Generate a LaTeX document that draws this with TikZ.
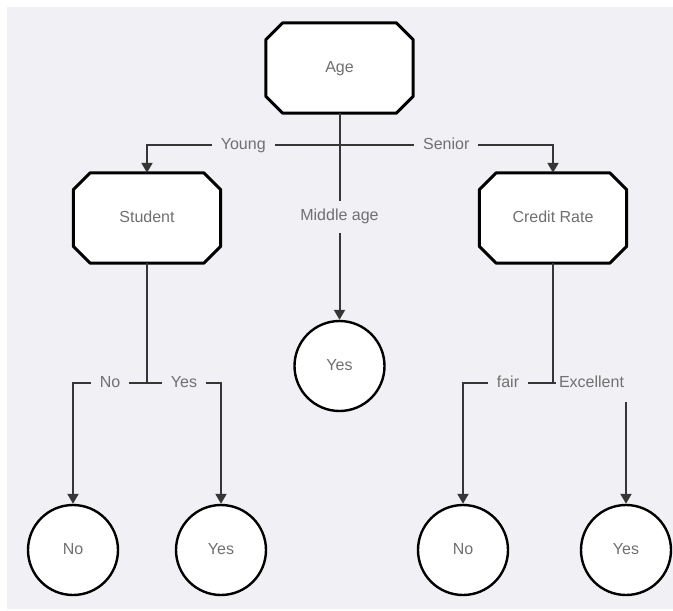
\documentclass[tikz,border=0pt]{standalone}
\usepackage{fontspec}
\setmainfont{Liberation Sans}
\usetikzlibrary{arrows.meta}
\definecolor{panel}{HTML}{F1F1F5}
\definecolor{txt}{HTML}{707070}
\definecolor{wire}{HTML}{363636}
\pgfdeclarelayer{bg}
\pgfsetlayers{bg,main}
\begin{document}
\begin{tikzpicture}[x=1pt,y=-1pt,
  every node/.style={font=\fontsize{16}{19}\selectfont, text=txt, text height=11.5pt, text depth=3.5pt},
  octbox/.style={minimum width=147pt, minimum height=90pt, inner sep=0pt},
  leaf/.style={circle, draw=black, line width=2.4pt, fill=white, minimum size=90pt, inner sep=0pt},
  conn/.style={draw=wire, line width=2pt},
  arr/.style={-{Triangle[width=11pt,length=10pt]}},
  lbl/.style={fill=panel, inner xsep=9pt, inner ysep=8.5pt},
  octline/.style={draw=black, line width=3pt, fill=white, line join=round}]
\useasboundingbox (0,0) rectangle (673,611);

% decision nodes
\node[octbox] (age) at (339.5,68) {Age};
\node[octbox] (student) at (147,218) {Student};
\node[octbox] (credit) at (553,218) {Credit Rate};

% leaves
\node[leaf] (midyes) at (339.5,366) {Yes};
\node[leaf] (no1) at (73,550) {No};
\node[leaf] (yes1) at (221,550) {Yes};
\node[leaf] (no2) at (463,550) {No};
\node[leaf] (yes2) at (626,550) {Yes};

% junctions
\coordinate (yj) at (339.5,145);
\coordinate (sj) at (147,383);
\coordinate (cj) at (553,383);

% octagon outlines and panel on background layer
\begin{pgfonlayer}{bg}
  \fill[panel] (7,7) rectangle (673,609);
  \foreach \n in {age,student,credit}{
    \path[octline] ([xshift=17pt]\n.north west) -- ([xshift=-17pt]\n.north east)
      -- ([yshift=-17pt]\n.north east) -- ([yshift=17pt]\n.south east)
      -- ([xshift=-17pt]\n.south east) -- ([xshift=17pt]\n.south west)
      -- ([yshift=17pt]\n.south west) -- ([yshift=-17pt]\n.north west) -- cycle;
  }
\end{pgfonlayer}

% connectors from Age
\draw[conn,arr] (age.south) -- (yj) -| node[pos=0.25,lbl]{Young} (student.north);
\draw[conn,arr] (age.south) -- (yj) -| node[pos=0.25,lbl]{Senior} (credit.north);
\draw[conn,arr] (age.south) -- node[lbl]{Middle age} (midyes.north);

% connectors from Student
\draw[conn] (student.south) -- (sj);
\draw[conn,arr] (sj) -| node[pos=0.25,lbl]{No} (no1.north);
\draw[conn,arr] (sj) -| node[pos=0.25,lbl]{Yes} (yes1.north);

% connectors from Credit Rate
\draw[conn] (credit.south) -- (cj);
\draw[conn,arr] (cj) -| node[pos=0.25,lbl]{fair} (no2.north);
\draw[conn,arr] (cj) -| node[pos=0.25,lbl,inner sep=0pt,minimum width=72pt,minimum height=38pt,xshift=2pt]{Excellent} (yes2.north);
\end{tikzpicture}
\end{document}
